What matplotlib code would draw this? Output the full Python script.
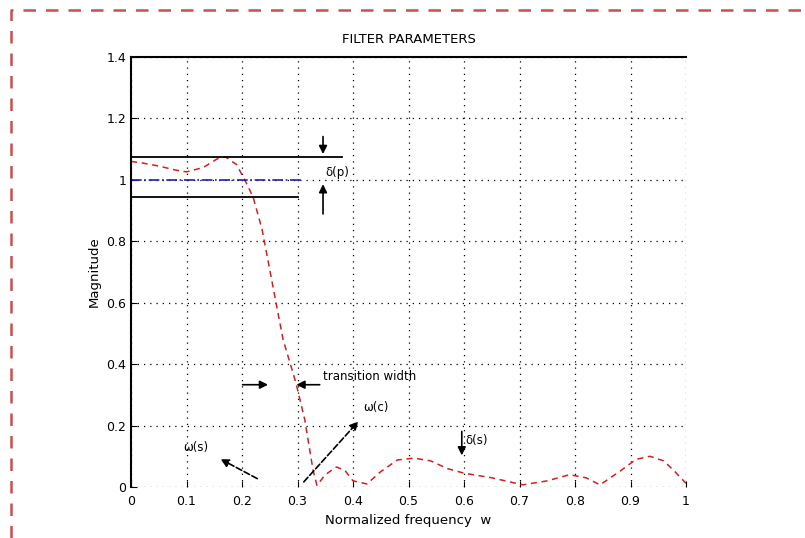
import matplotlib
matplotlib.use("Agg")
import matplotlib.pyplot as plt
from matplotlib.lines import Line2D

# data
freq = [0.0, 0.02, 0.05, 0.08, 0.1, 0.13, 0.155, 0.17, 0.19, 0.205, 0.22, 0.236, 0.255,
        0.274, 0.297, 0.313, 0.328, 0.335, 0.35, 0.37, 0.385, 0.4, 0.425, 0.45, 0.48,
        0.51, 0.54, 0.57, 0.6, 0.65, 0.706, 0.75, 0.79, 0.82, 0.845, 0.88, 0.91,
        0.935, 0.96, 0.98, 1.0]
mag = [1.06, 1.055, 1.045, 1.032, 1.026, 1.04, 1.068, 1.075, 1.05, 1.0, 0.944, 0.84, 0.66,
       0.48, 0.34, 0.22, 0.055, 0.005, 0.04, 0.065, 0.055, 0.02, 0.01, 0.05, 0.088,
       0.094, 0.085, 0.06, 0.045, 0.03, 0.007, 0.02, 0.04, 0.03, 0.007, 0.05, 0.09,
       0.1, 0.085, 0.05, 0.012]
yticks = [0, 0.2, 0.4, 0.6, 0.8, 1, 1.2, 1.4]
yticklabels = ["0", "0.2", "0.4", "0.6", "0.8", "1", "1.2", "1.4"]
xticks = [0, 0.1, 0.2, 0.3, 0.4, 0.5, 0.6, 0.7, 0.8, 0.9, 1]
xticklabels = ["0", "0.1", "0.2", "0.3", "0.4", "0.5", "0.6", "0.7", "0.8", "0.9", "1"]
pass_upper = 1.075
pass_lower = 0.945
pass_nominal = 1.0

fig = plt.figure(figsize=(8.05, 5.38), dpi=100)
ax = fig.add_axes([131/805, 1-487/538, (686-131)/805, (487-57)/538])

ax.plot(freq, mag, color="#d02020", linestyle=(0, (4, 3)), linewidth=1.1)
ax.plot([0, 0.38], [pass_upper, pass_upper], color="k", linewidth=1.3)
ax.plot([0, 0.3], [pass_lower, pass_lower], color="k", linewidth=1.3)
ax.plot([0, 0.31], [pass_nominal, pass_nominal], color="#2020a0", linestyle="-.", linewidth=1.2)

ax.set_xlim(0, 1)
ax.set_ylim(0, 1.4)
ax.set_xticks(xticks)
ax.set_xticklabels(xticklabels)
ax.set_yticks(yticks)
ax.set_yticklabels(yticklabels)
ax.grid(True, color="k", linestyle=(0, (1, 4)), linewidth=0.9)
ax.spines["right"].set_visible(False)
ax.spines["bottom"].set_visible(False)
ax.spines["top"].set_linewidth(1.5)
ax.spines["left"].set_linewidth(1.5)
ax.tick_params(direction="in", length=4, labelsize=9, color="k")
ax.tick_params(axis="x", pad=6)

ax.set_title("FILTER PARAMETERS", fontsize=9.5, pad=10)
ax.set_ylabel("Magnitude", fontsize=9.5)
ax.set_xlabel("Normalized frequency  w", fontsize=9.5, labelpad=4)

ap = dict(arrowstyle="-|>", color="k", linewidth=1.2, mutation_scale=12)
apd = dict(arrowstyle="-|>", color="k", linewidth=1.2, linestyle="--", mutation_scale=12)

# delta(p)
ax.annotate("", xy=(0.346, 1.075), xytext=(0.346, 1.15), arrowprops=ap)
ax.annotate("", xy=(0.346, 0.995), xytext=(0.346, 0.88), arrowprops=ap)
ax.text(0.35, 1.025, "δ(p)", fontsize=8.5, va="center", ha="left")

# transition width
ax.annotate("", xy=(0.252, 0.333), xytext=(0.196, 0.333), arrowprops=ap)
ax.annotate("", xy=(0.293, 0.333), xytext=(0.345, 0.333), arrowprops=ap)
ax.text(0.346, 0.36, "transition width", fontsize=8.5, va="center", ha="left")

# omega(s)
ax.annotate("", xy=(0.157, 0.095), xytext=(0.232, 0.023), arrowprops=apd)
ax.text(0.094, 0.127, "ω(s)", fontsize=8.5, va="center", ha="left")

# omega(c)
ax.annotate("", xy=(0.413, 0.22), xytext=(0.308, 0.01), arrowprops=apd)
ax.text(0.418, 0.26, "ω(c)", fontsize=8.5, va="center", ha="left")

# delta(s)
ax.annotate("", xy=(0.596, 0.094), xytext=(0.596, 0.19), arrowprops=ap)
ax.text(0.602, 0.15, "δ(s)", fontsize=8.5, va="center", ha="left")

# red dashed border (top and left visible)
W, H = 805, 538
border = Line2D([11/W, 11/W, 1.0], [0.0, 1-10/H, 1-10/H], transform=fig.transFigure,
                color="#c85050", linewidth=1.8, linestyle=(0, (5, 4)))
fig.add_artist(border)

fig.savefig("out.png", dpi=100)
